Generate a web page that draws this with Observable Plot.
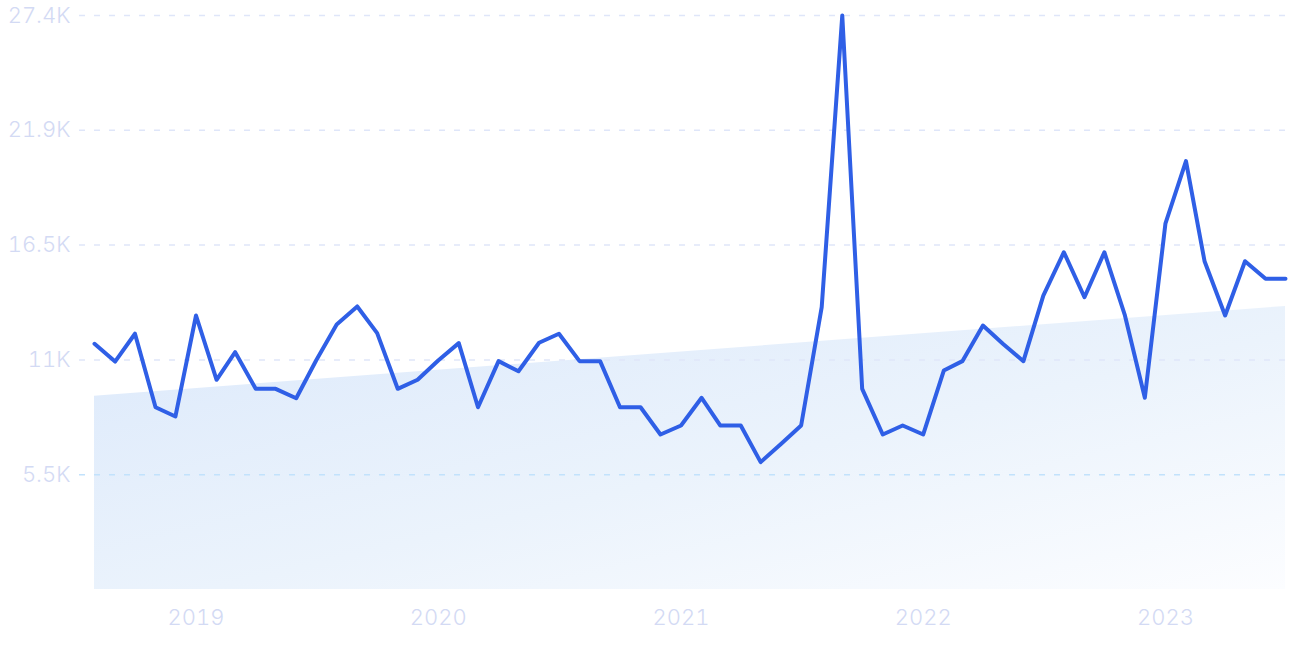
<!DOCTYPE html>
<html>
<head>
<meta charset="utf-8">
<script src="https://cdn.jsdelivr.net/npm/d3@7"></script>
<script src="https://cdn.jsdelivr.net/npm/@observablehq/plot@0.6"></script>
<style>
  html, body { margin: 0; padding: 0; background: #ffffff; }
  #chart { width: 1290px; height: 645px; overflow: hidden; }
  svg { display: block; }
</style>
</head>
<body>
<div id="chart"></div>
<script>
const months = [
  "2018-08","2018-09","2018-10","2018-11","2018-12",
  "2019-01","2019-02","2019-03","2019-04","2019-05","2019-06","2019-07","2019-08","2019-09","2019-10","2019-11","2019-12",
  "2020-01","2020-02","2020-03","2020-04","2020-05","2020-06","2020-07","2020-08","2020-09","2020-10","2020-11","2020-12",
  "2021-01","2021-02","2021-03","2021-04","2021-05","2021-06","2021-07","2021-08","2021-09","2021-10","2021-11","2021-12",
  "2022-01","2022-02","2022-03","2022-04","2022-05","2022-06","2022-07","2022-08","2022-09","2022-10","2022-11","2022-12",
  "2023-01","2023-02","2023-03","2023-04","2023-05","2023-06","2023-07"
];
const values = [
  11730, 10880, 12210, 8700, 8260,
  13080, 10010, 11330, 9580, 9580, 9130, 10930, 12650, 13510, 12240, 9580, 10010,
  10930, 11760, 8700, 10900, 10420, 11780, 12210, 10900, 10900, 8700, 8700, 7400,
  7830, 9150, 7830, 7830, 6080, 6960, 7830, 13480, 27400, 9580, 7400, 7830,
  7400, 10450, 10900, 12600, 11730, 10900, 14030, 16100, 13950, 16100, 13080, 9150,
  17460, 20450, 15670, 13080, 15670, 14830, 14830
];
const trendMonths = ["2018-08", "2023-07"];
const trendValues = [9230, 13510];
const yTicks = [5480, 10960, 16440, 21920, 27400];
const yTickLabels = ["5.5K", "11K", "16.5K", "21.9K", "27.4K"];
const xTickYears = ["2019", "2020", "2021", "2022", "2023"];

const parse = d3.utcParse("%Y-%m");
const series = months.map((m, i) => ({date: parse(m), value: values[i]}));
const trend = trendMonths.map((m, i) => ({date: parse(m), value: trendValues[i]}));
const xTicks = xTickYears.map(y => d3.utcParse("%Y")(y));
const gridColors = ["#c2e2fc", "#dfe6f9", "#dfe6f9", "#dfe6f9", "#dfe6f9"];

const plot = Plot.plot({
  width: 1290,
  height: 645,
  marginLeft: 79,
  marginRight: 0,
  marginTop: 15,
  marginBottom: 56,
  style: {fontFamily: "Inter, sans-serif", fontSize: "22px", background: "#ffffff", overflow: "visible"},
  x: {type: "utc", domain: [parse(months[0]), parse(months[months.length - 1])], range: [94, 1285], label: null},
  y: {domain: [0, 27400], label: null},
  marks: [
    Plot.areaY(trend, {x: "date", y: "value", fill: "url(#trendGrad)"}),
    Plot.ruleY(yTicks, {stroke: (d, i) => gridColors[i], strokeWidth: 1.5, strokeDasharray: "6 9"}),
    Plot.axisY({ticks: yTicks, tickFormat: (d) => yTickLabels[yTicks.indexOf(d)], tickSize: 0, tickPadding: 9, anchor: "left", label: null, color: "#d3daf4", fontSize: 22, fontWeight: 300}),
    Plot.axisX({ticks: xTicks, tickFormat: d3.utcFormat("%Y"), tickSize: 0, tickPadding: 20, label: null, color: "#d3daf4", fontSize: 22, fontWeight: 300}),
    Plot.lineY(series, {x: "date", y: "value", stroke: "#2f5fe6", strokeWidth: 4, strokeLinejoin: "round", strokeLinecap: "round"})
  ]
});

const svg = d3.select(plot);
const defs = svg.insert("defs", ":first-child");
const grad = defs.append("linearGradient")
  .attr("id", "trendGrad")
  .attr("x1", "0").attr("y1", "0").attr("x2", "1").attr("y2", "1");
grad.append("stop").attr("offset", "0%").attr("stop-color", "#dce9fb");
grad.append("stop").attr("offset", "55%").attr("stop-color", "#ebf3fc");
grad.append("stop").attr("offset", "100%").attr("stop-color", "#fcfdff");

document.getElementById("chart").appendChild(plot);
</script>
</body>
</html>
